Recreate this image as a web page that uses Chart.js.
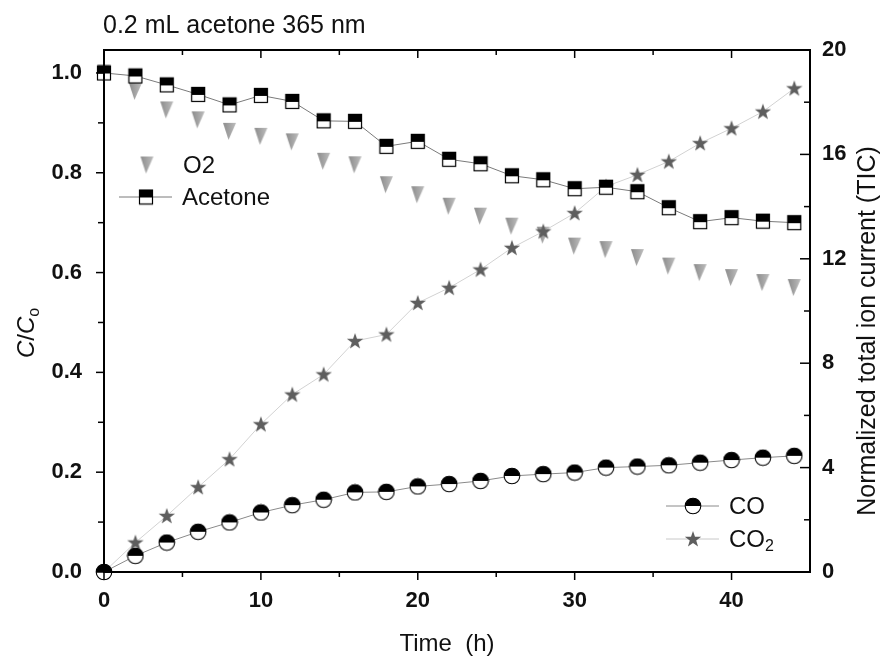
<!DOCTYPE html>
<html>
<head>
<meta charset="utf-8">
<script src="https://cdn.jsdelivr.net/npm/chart.js@4.4.1/dist/chart.umd.min.js"></script>
<style>
  html, body { margin: 0; background: #fff; }
  #wrap { width: 881px; height: 656px; position: relative; }
</style>
</head>
<body>
<div id="wrap"><canvas id="chart"></canvas></div>
<script>
const hours   = [0, 2, 4, 6, 8, 10, 12, 14, 16, 18, 20, 22, 24, 26, 28, 30, 32, 34, 36, 38, 40, 42, 44];
const acetone = [1.00, 0.994, 0.976, 0.957, 0.936, 0.955, 0.943, 0.904, 0.903, 0.853, 0.863, 0.827, 0.818, 0.794, 0.786, 0.768, 0.771, 0.762, 0.730, 0.702, 0.710, 0.703, 0.700];
const oxygen  = [1.00, 0.963, 0.926, 0.906, 0.883, 0.873, 0.862, 0.823, 0.816, 0.776, 0.756, 0.733, 0.713, 0.693, 0.675, 0.653, 0.646, 0.630, 0.613, 0.600, 0.590, 0.580, 0.570];
const co      = [0.0, 0.62, 1.13, 1.54, 1.90, 2.28, 2.56, 2.77, 3.05, 3.07, 3.28, 3.37, 3.49, 3.68, 3.75, 3.81, 4.00, 4.04, 4.09, 4.19, 4.29, 4.38, 4.45];
const co2     = [0.0, 1.13, 2.15, 3.25, 4.32, 5.66, 6.80, 7.57, 8.85, 9.10, 10.31, 10.89, 11.59, 12.42, 13.05, 13.75, 14.77, 15.22, 15.73, 16.43, 17.00, 17.64, 18.53];

const xMajor     = [0, 10, 20, 30, 40];
const xMinor     = [5, 15, 25, 35];
const leftMajor  = [0, 0.2, 0.4, 0.6, 0.8, 1.0];
const leftMinor  = [0.1, 0.3, 0.5, 0.7, 0.9];
const rightMajor = [0, 4, 8, 12, 16, 20];
const rightMinor = [2, 6, 10, 14, 18];

const FONT = '"Liberation Sans", Arial, sans-serif';

// small offscreen canvases used as point styles
const makeMarker = (w, h, draw) => {
  const c = document.createElement('canvas');
  c.width = w; c.height = h;
  draw(c.getContext('2d'));
  return c;
};

const halfSquare = makeMarker(16, 17, ctx => {
  ctx.fillStyle = '#fff';  ctx.fillRect(1, 1, 14, 15);
  ctx.fillStyle = '#000';  ctx.fillRect(1, 1, 14, 8);
  ctx.strokeStyle = '#000'; ctx.lineWidth = 1.2;
  ctx.strokeRect(1.5, 1.5, 13, 14);
});

const halfCircle = makeMarker(18, 18, ctx => {
  ctx.beginPath(); ctx.arc(9, 9, 7.8, 0, Math.PI * 2);
  ctx.fillStyle = '#fff'; ctx.fill();
  ctx.beginPath(); ctx.arc(9, 9, 7.8, Math.PI, Math.PI * 2); ctx.closePath();
  ctx.fillStyle = '#000'; ctx.fill();
  ctx.beginPath(); ctx.arc(9, 9, 7.8, 0, Math.PI * 2);
  ctx.strokeStyle = '#000'; ctx.lineWidth = 1.1; ctx.stroke();
});

const star = makeMarker(20, 20, ctx => {
  ctx.beginPath();
  for (let i = 0; i < 10; i++) {
    const r = i % 2 ? 3.4 : 8.6;
    const a = -Math.PI / 2 + i * Math.PI / 5;
    ctx.lineTo(10 + r * Math.cos(a), 10.5 + r * Math.sin(a));
  }
  ctx.closePath();
  ctx.fillStyle = '#5e5e5e'; ctx.fill();
});

// grey down-triangle, a little darker along the left edge
const triDown = makeMarker(15, 19, ctx => {
  const g = ctx.createLinearGradient(1, 0, 14, 0);
  g.addColorStop(0, '#8c8c8c');
  g.addColorStop(1, '#bdbdbd');
  ctx.beginPath();
  ctx.moveTo(1, 1); ctx.lineTo(14, 1); ctx.lineTo(6.5, 18); ctx.closePath();
  ctx.fillStyle = g; ctx.fill();
});

const pts = ys => hours.map((h, i) => ({ x: h, y: ys[i] }));

// frame, inward/outward ticks, axis titles and the two in-plot legends
const decorPlugin = {
  id: 'decor',
  afterDraw(chart) {
    const { ctx, chartArea: a, scales } = chart;
    const sx = scales.x, sl = scales.y, sr = scales.y2;
    ctx.save();
    ctx.strokeStyle = '#000';
    ctx.lineWidth = 1.5;

    const tick = (x1, y1, x2, y2) => {
      ctx.beginPath(); ctx.moveTo(x1, y1); ctx.lineTo(x2, y2); ctx.stroke();
    };
    xMajor.forEach(v => { const p = sx.getPixelForValue(v); tick(p, a.bottom, p, a.bottom + 8); tick(p, a.top, p, a.top + 8); });
    xMinor.forEach(v => { const p = sx.getPixelForValue(v); tick(p, a.bottom, p, a.bottom + 5); tick(p, a.top, p, a.top + 5); });
    leftMajor.forEach(v => { const p = sl.getPixelForValue(v); tick(a.left, p, a.left - 8, p); });
    leftMinor.forEach(v => { const p = sl.getPixelForValue(v); tick(a.left, p, a.left - 6, p); });
    rightMajor.forEach(v => { const p = sr.getPixelForValue(v); tick(a.right, p, a.right - 10, p); });
    rightMinor.forEach(v => { const p = sr.getPixelForValue(v); tick(a.right, p, a.right - 6, p); });

    ctx.lineWidth = 2;
    ctx.strokeRect(a.left, a.top, a.right - a.left, a.bottom - a.top);

    ctx.fillStyle = '#111';
    ctx.textBaseline = 'alphabetic';
    ctx.textAlign = 'left';
    ctx.font = `25px ${FONT}`;
    ctx.fillText('0.2 mL acetone 365 nm', a.left - 1, 33);

    ctx.textAlign = 'center';
    ctx.font = `24px ${FONT}`;
    ctx.fillText('Time  (h)', 447, 651);

    // right axis title
    ctx.save();
    ctx.translate(868, 331);
    ctx.rotate(-Math.PI / 2);
    ctx.textBaseline = 'middle';
    ctx.font = `25px ${FONT}`;
    ctx.fillText('Normalized total ion current (TIC)', 0, 0);
    ctx.restore();

    // left axis title C/Co
    ctx.save();
    ctx.translate(34, 333);
    ctx.rotate(-Math.PI / 2);
    ctx.textAlign = 'left';
    const parts = [
      { t: 'C', f: `italic 24px ${FONT}`, dy: 0 },
      { t: '/', f: `24px ${FONT}`, dy: 0 },
      { t: 'C', f: `italic 24px ${FONT}`, dy: 0 },
      { t: 'o', f: `16px ${FONT}`, dy: 5 }
    ];
    const total = parts.reduce((s, p) => { ctx.font = p.f; return s + ctx.measureText(p.t).width; }, 0);
    let cx = -total / 2;
    parts.forEach(p => { ctx.font = p.f; ctx.fillText(p.t, cx, p.dy); cx += ctx.measureText(p.t).width; });
    ctx.restore();

    // legends
    const entry = (img, lineColor, x, y, label, sub) => {
      if (lineColor) {
        ctx.strokeStyle = lineColor; ctx.lineWidth = 1;
        tick(x - 27, y, x + 26, y);
      }
      ctx.drawImage(img, x - img.width / 2, y - img.height / 2);
      ctx.fillStyle = '#111';
      ctx.textAlign = 'left';
      ctx.textBaseline = 'middle';
      ctx.font = `24px ${FONT}`;
      ctx.fillText(label, x + 36, y + 1);
      if (sub) {
        const w = ctx.measureText(label).width;
        ctx.font = `16px ${FONT}`;
        ctx.fillText(sub, x + 36 + w, y + 8);
      }
    };
    entry(triDown, null, 147, 165, 'O2');
    entry(halfSquare, '#7a7a7a', 146, 197, 'Acetone');
    entry(halfCircle, '#8a8a8a', 693, 506, 'CO');
    entry(star, '#c8c8c8', 693, 539, 'CO', '2');

    ctx.restore();
  }
};

new Chart(document.getElementById('chart'), {
  type: 'line',
  data: {
    datasets: [
      { label: 'Acetone', data: pts(acetone), yAxisID: 'y', borderColor: '#7a7a7a', borderWidth: 1,
        pointStyle: halfSquare, pointRadius: 8, clip: false },
      { label: 'CO', data: pts(co), yAxisID: 'y2', borderColor: '#8a8a8a', borderWidth: 1,
        pointStyle: halfCircle, pointRadius: 8, clip: false },
      { label: 'CO2', data: pts(co2), yAxisID: 'y2', borderColor: '#d2d2d2', borderWidth: 1,
        pointStyle: star, pointRadius: 8, clip: false },
      { label: 'O2', data: pts(oxygen), yAxisID: 'y', showLine: false,
        pointStyle: triDown, pointRadius: 8, clip: false }
    ]
  },
  options: {
    responsive: true,
    maintainAspectRatio: false,
    animation: false,
    layout: { padding: { top: 50 } },
    plugins: { legend: { display: false }, tooltip: { enabled: false } },
    scales: {
      x: {
        type: 'linear', min: 0, max: 45,
        grid: { display: false }, border: { display: false },
        afterBuildTicks: s => { s.ticks = xMajor.map(v => ({ value: v })); },
        afterFit: s => { s.height = 84; },
        ticks: { autoSkip: false, maxRotation: 0, padding: 8, color: '#111',
                 font: { family: FONT, size: 22, weight: 'bold' } }
      },
      y: {
        position: 'left', min: 0, max: 1.046,
        grid: { display: false }, border: { display: false },
        afterBuildTicks: s => { s.ticks = leftMajor.map(v => ({ value: v })); },
        afterFit: s => { s.width = 104; },
        ticks: { autoSkip: false, padding: 14, color: '#111', callback: v => v.toFixed(1),
                 font: { family: FONT, size: 22, weight: 'bold' } }
      },
      y2: {
        position: 'right', min: 0, max: 20,
        grid: { display: false }, border: { display: false },
        afterBuildTicks: s => { s.ticks = rightMajor.map(v => ({ value: v })); },
        afterFit: s => { s.width = 71; },
        ticks: { autoSkip: false, padding: 4, color: '#111',
                 font: { family: FONT, size: 22, weight: 'bold' } }
      }
    }
  },
  plugins: [decorPlugin]
});
</script>
</body>
</html>
